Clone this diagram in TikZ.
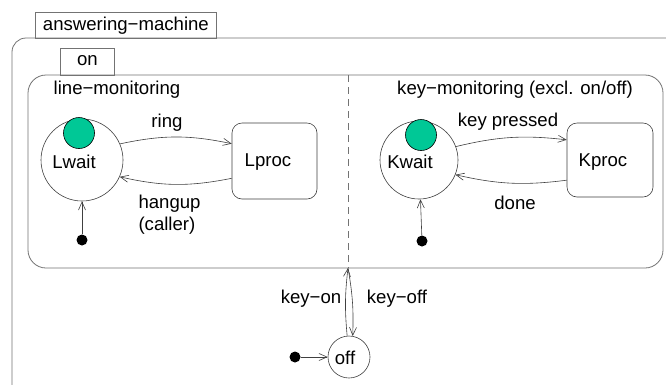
\documentclass[tikz,border=0pt]{standalone}
\usepackage{fontspec}
\setmainfont{Liberation Sans}
\usetikzlibrary{arrows.meta}
\definecolor{stategreen}{RGB}{0,200,150}
\begin{document}
\begin{tikzpicture}[x=1pt,y=-1pt,
  every node/.style={font=\fontsize{18.6}{22}\selectfont, text=black},
  boxline/.style={draw=black!55, line width=0.8pt},
  stateline/.style={draw=black!75, line width=0.6pt},
  tab/.style={boxline, rectangle, inner sep=0pt, anchor=north west},
  circstate/.style={stateline, circle, inner sep=0pt},
  rstate/.style={stateline, rectangle, rounded corners=10pt, inner sep=0pt},
  initdot/.style={fill=black, circle, inner sep=0pt, minimum size=11pt},
  greendot/.style={draw=black, fill=stategreen, circle, inner sep=0pt, line width=0.6pt},
  trans/.style={draw=black!75, line width=0.6pt, -{Straight Barb[length=8pt,width=7pt]}}
]
\useasboundingbox (0,0) rectangle (666,384);
\clip (0,0) rectangle (666,384);
\fill[white] (0,0) rectangle (666,384);

% outer state answering-machine
\draw[boxline, rounded corners=14pt] (12,420) -- (12,38) -- (690,38) -- (690,420);
\node[tab, minimum width=181pt, minimum height=26pt] (amtab) at (35,12) {};
\node at (amtab.center) {answering−machine};

% on state
\node[boxline, rectangle, rounded corners=18pt, minimum width=635pt, minimum height=193pt, inner sep=0pt] (onbox) at (345.5,171.5) {};
\node[tab, minimum width=54pt, minimum height=27pt] (ontab) at (60,48) {};
\node at ([yshift=1pt]ontab.center) {on};

% concurrency divider
\coordinate (divtop) at (348,75);
\coordinate (divbot) at (348,268);
\draw[boxline, dash pattern=on 7pt off 5pt] (divtop) -- (divbot);

% region labels
\node (lmlabel) at (117,90) {line−monitoring};
\node (kmlabel) at (515,90) {key−monitoring (excl. on/off)};

% line-monitoring region
\node[circstate, minimum size=82pt] (Lwait) at (82,160) {};
\node[greendot, minimum size=31pt] (Lgreen) at (79,133) {};
\node (Lwaittxt) at (74,162) {Lwait};
\node[rstate, minimum width=85pt, minimum height=76pt] (Lproc) at (274.5,161) {};
\node (Lproctxt) at (268,162) {Lproc};
\node[initdot] (Linit) at (82,240) {};

\draw[trans] (Lwait.23) to[bend left=12] (Lproc.158);
\draw[trans] (Lproc.202) to[bend left=12] (Lwait.-24);
\draw[trans] (Linit) -- (Lwait);
\node (ringlbl) at (167,123) {ring};
\node[align=left, anchor=west] (hanglbl) at (135,215) {hangup\\(caller)};

% key-monitoring region
\node[circstate, minimum size=78pt] (Kwait) at (419,160) {};
\node[greendot, minimum size=31pt] (Kgreen) at (421,135) {};
\node (Kwaittxt) at (410,162) {Kwait};
\node[rstate, minimum width=86pt, minimum height=74pt] (Kproc) at (610,160) {};
\node (Kproctxt) at (603,162) {Kproc};
\node[initdot] (Kinit) at (422,241) {};

\draw[trans] (Kwait.20) to[bend left=10] (Kproc.155);
\draw[trans] (Kproc.205) to[bend left=10] (Kwait.-22);
\draw[trans] (Kinit) -- (Kwait);
\node (kplbl) at (508,122) {key pressed};
\node (donelbl) at (515,203) {done};

% off state
\node[circstate, minimum size=42pt] (off) at (349,357) {};
\node (offtxt) at (345,358) {off};
\node[initdot] (offinit) at (295,357) {};
\draw[trans] (offinit) -- (off);

\coordinate (onbotin) at (348,268);
\draw[trans] (off.95) to[bend left=6] (onbotin);
\draw[trans] (onbotin) to[bend left=6] (off.80);
\node (keyonlbl) at (311,299) {key−on};
\node (keyofflbl) at (397,299) {key−off};
\end{tikzpicture}
\end{document}
